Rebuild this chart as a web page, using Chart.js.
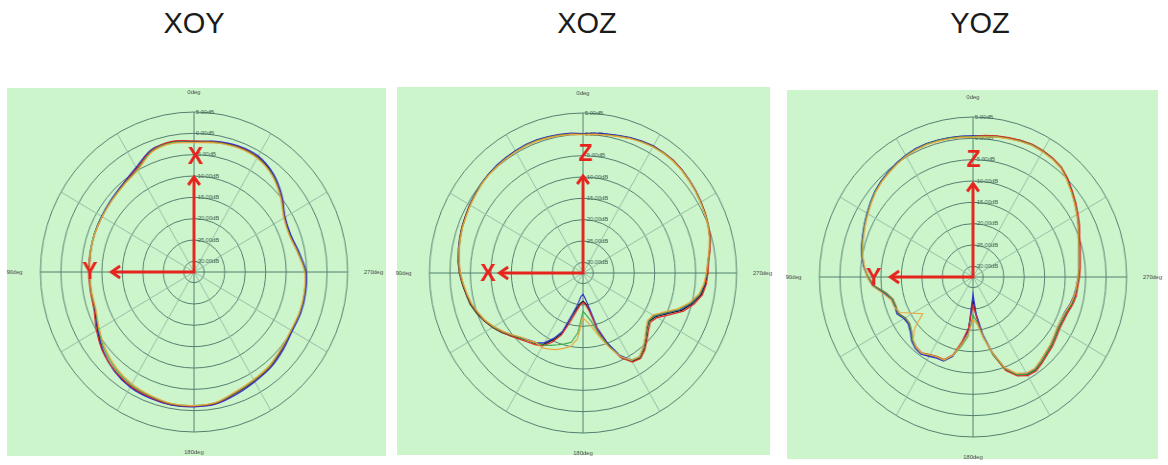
<!DOCTYPE html>
<html>
<head>
<meta charset="utf-8">
<script src="https://cdn.jsdelivr.net/npm/chart.js@4.4.1/dist/chart.umd.min.js"></script>
<style>
  body { margin: 0; background: #fff; font-family: "Liberation Sans", Arial, sans-serif; }
  .page { position: relative; width: 1168px; height: 465px; overflow: hidden; }
  .title { position: absolute; top: 5.5px; width: 200px; text-align: center; font-size: 29px; line-height: 34px; color: #1b1b1b; }
  .panel { position: absolute; background: #cdf5cc; }
  .plot { position: absolute; width: 420px; height: 420px; transform: scaleX(0.96); transform-origin: 210px 210px; }
</style>
</head>
<body>
<div class="page">
  <div class="title" style="left:94px">XOY</div>
  <div class="title" style="left:487px">XOZ</div>
  <div class="title" style="left:880px">YOZ</div>

  <div class="panel" style="left:7px;top:88px;width:379px;height:368px">
    <div class="plot" style="left:-22.7px;top:-26.3px"><canvas id="xoy" width="420" height="420"></canvas></div>
  </div>
  <div class="panel" style="left:397px;top:87px;width:373px;height:368px">
    <div class="plot" style="left:-23.7px;top:-23.7px"><canvas id="xoz" width="420" height="420"></canvas></div>
  </div>
  <div class="panel" style="left:787px;top:90px;width:371px;height:369px">
    <div class="plot" style="left:-24.3px;top:-23px"><canvas id="yoz" width="420" height="420"></canvas></div>
  </div>
</div>

<script>
// ring values (dB) and the scale limits
const ringTicks = [5, 0, -5, -10, -15, -20, -25, -30];
const scaleMin = -32.5;
const scaleMax = 5;
const degreeLabels = ['0deg', '90deg', '180deg', '270deg'];

// XOY plane, 10 deg steps, angle counted counter-clockwise from 0deg (top)
const xoyBlack  = [-1.9, -1.5, -2.1, -4.4, -5.6, -6.2, -6.5, -6.6, -6.8, -6.9, -6.9, -6.7, -5.3, -3.5, -2.3, -1.5, -1.2, -0.9, -1.0, -1.2, -2.3, -3.0, -3.5, -4.4, -5.0, -4.9, -5.0, -5.3, -6.6, -7.5, -6.9, -4.7, -2.6, -1.4, -1.2, -1.5];
const xoyBlue   = [-2.0, -1.6, -2.0, -4.2, -5.5, -6.1, -6.4, -6.6, -6.9, -7.0, -7.0, -6.8, -5.4, -3.6, -2.2, -1.3, -1.0, -0.8, -0.9, -1.1, -2.0, -2.8, -3.3, -4.1, -4.8, -4.7, -4.8, -5.1, -6.4, -7.3, -6.8, -4.5, -2.4, -1.1, -1.0, -1.4];
const xoyRed    = [-1.8, -1.4, -2.2, -4.5, -5.7, -6.3, -6.6, -6.7, -6.7, -6.8, -6.8, -6.5, -5.0, -3.4, -2.4, -1.6, -1.3, -1.0, -1.1, -1.3, -2.4, -3.1, -3.6, -4.5, -5.1, -5.0, -5.1, -5.4, -6.7, -7.6, -7.0, -4.8, -2.8, -1.5, -1.3, -1.6];
const xoyGreen  = [-2.1, -1.7, -2.4, -4.8, -5.8, -6.3, -6.5, -6.6, -6.8, -7.0, -7.0, -6.9, -5.6, -4.0, -2.8, -1.9, -1.5, -1.1, -1.2, -1.4, -2.5, -3.2, -3.7, -4.6, -5.1, -5.0, -5.1, -5.4, -6.7, -7.6, -7.1, -4.9, -2.8, -1.6, -1.4, -1.7];
const xoyOrange = [-2.2, -1.9, -2.6, -5.0, -5.9, -6.4, -6.6, -6.7, -6.9, -7.1, -7.1, -7.0, -5.8, -4.3, -3.1, -2.2, -1.7, -1.2, -1.2, -1.5, -2.7, -3.4, -3.9, -4.7, -5.2, -5.1, -5.2, -5.5, -6.8, -7.7, -7.2, -5.0, -2.9, -1.7, -1.5, -1.8];

// XOZ plane, 5 deg steps
const xozBlack = [
  0.1, 0.3, 0.4, 0.5, 0.6, 0.6, 0.5, 0.4, 0.3, 0.2, 0.0, -0.3,
  -0.5, -0.8, -1.0, -1.3, -1.6, -1.9, -2.3, -2.9, -3.5, -4.0, -4.9, -5.9,
  -7.0, -8.2, -9.6, -10.9, -11.8, -12.3, -13.2, -15.2, -17.5, -22.0, -24.2, -25.4,
  -25.9, -25.3, -23.8, -18.9, -14.7, -10.8, -8.6, -8.2, -9.3, -10.7, -12.0, -12.8,
  -12.0, -9.9, -6.9, -4.8, -3.2, -2.5, -2.1, -1.8, -1.1, -0.4, 0.0, 0.4,
  0.7, 1.0, 1.3, 1.6, 1.8, 1.8, 1.8, 1.5, 1.2, 0.8, 0.5, 0.3
];
const xozBlue = [
  0.2, 0.4, 0.5, 0.6, 0.7, 0.7, 0.6, 0.5, 0.4, 0.2, 0.0, -0.3,
  -0.6, -0.9, -1.1, -1.4, -1.7, -2.1, -2.5, -3.1, -3.7, -4.3, -5.2, -6.1,
  -7.3, -8.6, -9.9, -11.1, -12.0, -12.6, -13.6, -15.6, -18.0, -22.5, -25.0, -27.0,
  -27.5, -26.5, -24.5, -19.2, -15.0, -11.2, -8.9, -8.5, -9.6, -11.0, -12.3, -13.1,
  -12.4, -10.3, -7.3, -5.1, -3.5, -2.7, -2.3, -1.9, -1.2, -0.5, 0.0, 0.4,
  0.8, 1.1, 1.4, 1.7, 1.9, 1.9, 1.9, 1.6, 1.3, 0.9, 0.6, 0.4
];
const xozRed = [
  0.0, 0.2, 0.3, 0.4, 0.5, 0.5, 0.4, 0.3, 0.2, 0.1, -0.1, -0.4,
  -0.6, -0.9, -1.1, -1.4, -1.7, -2.0, -2.4, -3.0, -3.6, -4.2, -5.1, -6.0,
  -7.1, -8.3, -9.5, -10.6, -11.4, -12.0, -12.8, -14.6, -17.0, -20.8, -23.5, -25.0,
  -25.6, -25.0, -23.2, -18.5, -14.4, -10.6, -8.4, -8.0, -9.0, -10.4, -11.6, -12.4,
  -11.6, -9.3, -6.4, -4.4, -2.9, -2.3, -2.0, -1.7, -1.0, -0.3, 0.1, 0.5,
  0.8, 1.1, 1.4, 1.7, 1.9, 1.9, 1.8, 1.5, 1.1, 0.7, 0.4, 0.2
];
const xozGreen = [
  0.0, 0.2, 0.3, 0.4, 0.5, 0.5, 0.4, 0.3, 0.2, 0.1, -0.1, -0.4,
  -0.7, -1.0, -1.2, -1.5, -1.8, -2.1, -2.5, -3.1, -3.7, -4.3, -5.2, -6.1,
  -7.2, -8.5, -9.8, -11.0, -11.9, -12.4, -13.0, -13.8, -14.6, -15.3, -16.0, -18.5,
  -23.5, -22.5, -21.0, -17.8, -14.3, -10.9, -8.8, -8.4, -9.5, -10.9, -12.2, -13.0,
  -12.5, -10.5, -7.6, -5.3, -3.6, -2.8, -2.3, -1.9, -1.2, -0.5, 0.0, 0.4,
  0.7, 1.0, 1.3, 1.6, 1.8, 1.8, 1.7, 1.4, 1.1, 0.7, 0.4, 0.2
];
const xozOrange = [
  -0.1, 0.1, 0.2, 0.3, 0.4, 0.4, 0.3, 0.2, 0.1, 0.0, -0.2, -0.5,
  -0.7, -1.0, -1.2, -1.5, -1.8, -2.2, -2.6, -3.2, -3.8, -4.4, -5.3, -6.2,
  -7.4, -8.7, -10.0, -11.2, -11.9, -12.6, -12.3, -12.8, -13.4, -14.2, -15.0, -17.0,
  -22.0, -21.0, -19.5, -17.0, -14.0, -10.9, -8.9, -8.6, -9.7, -11.1, -12.4, -13.2,
  -12.8, -10.8, -7.9, -5.6, -3.8, -2.9, -2.4, -2.0, -1.3, -0.6, -0.1, 0.3,
  0.6, 0.9, 1.2, 1.5, 1.7, 1.7, 1.6, 1.3, 1.0, 0.6, 0.3, 0.1
];

// YOZ plane, 5 deg steps
const yozBlack = [
  0.5, 0.55, 0.6, 0.65, 0.7, 0.6, 0.35, 0.0, -0.4, -0.8, -1.3, -2.0,
  -2.7, -3.3, -3.9, -4.4, -5.0, -5.8, -6.8, -8.2, -10.8, -12.1, -12.3, -12.2,
  -13.2, -13.4, -12.7, -11.5, -10.8, -10.6, -11.3, -11.7, -11.7, -13.4, -16.9, -20.3,
  -27.0, -23.4, -18.5, -13.9, -9.5, -7.2, -6.1, -5.9, -6.5, -7.1, -7.5, -8.0,
  -8.4, -8.4, -8.2, -7.6, -7.2, -7.0, -6.7, -6.4, -6.1, -5.6, -5.0, -4.0,
  -3.1, -2.1, -1.1, 0.0, 1.0, 1.4, 1.6, 1.7, 1.5, 1.2, 1.0, 0.7
];
const yozBlue = [
  0.6, 0.65, 0.7, 0.75, 0.8, 0.7, 0.45, 0.1, -0.3, -0.7, -1.2, -1.9,
  -2.6, -3.2, -3.8, -4.3, -4.9, -5.7, -6.7, -8.0, -10.5, -11.9, -12.2, -12.0,
  -13.0, -13.2, -12.5, -11.3, -10.6, -10.4, -11.0, -11.5, -11.5, -13.2, -16.6, -19.8,
  -28.5, -23.8, -18.8, -14.2, -9.8, -7.5, -6.4, -6.2, -6.8, -7.4, -7.8, -8.3,
  -8.7, -8.8, -8.6, -8.0, -7.5, -7.2, -6.9, -6.6, -6.3, -5.8, -5.2, -4.2,
  -3.2, -2.2, -1.2, -0.1, 0.9, 1.3, 1.5, 1.6, 1.4, 1.1, 0.9, 0.6
];
const yozRed = [
  0.4, 0.45, 0.5, 0.55, 0.6, 0.5, 0.25, -0.1, -0.5, -0.9, -1.4, -2.1,
  -2.8, -3.4, -4.0, -4.5, -5.1, -5.9, -6.9, -8.4, -11.0, -12.3, -12.5, -12.4,
  -13.4, -13.6, -12.9, -11.7, -11.0, -10.8, -11.5, -11.9, -11.9, -13.6, -17.1, -20.6,
  -26.0, -23.0, -18.2, -13.6, -9.2, -6.9, -5.8, -5.6, -6.2, -6.8, -7.2, -7.7,
  -8.1, -8.1, -7.9, -7.3, -6.9, -6.8, -6.5, -6.2, -5.9, -5.4, -4.8, -3.8,
  -2.9, -1.9, -0.9, 0.2, 1.1, 1.5, 1.7, 1.8, 1.6, 1.3, 1.1, 0.8
];
const yozGreen = [
  0.4, 0.5, 0.55, 0.6, 0.65, 0.55, 0.3, -0.05, -0.45, -0.85, -1.35, -2.05,
  -2.75, -3.35, -3.95, -4.45, -5.05, -5.85, -6.9, -8.3, -10.9, -12.2, -12.4, -12.3,
  -13.3, -13.5, -12.8, -11.6, -10.9, -10.7, -11.4, -11.8, -11.8, -13.5, -16.0, -18.5,
  -23.5, -22.0, -18.3, -13.8, -9.6, -7.3, -6.2, -6.0, -6.6, -7.2, -7.6, -8.1,
  -8.5, -8.5, -8.3, -7.7, -7.3, -7.1, -6.8, -6.5, -6.2, -5.7, -5.1, -4.1,
  -3.2, -2.2, -1.2, -0.1, 0.9, 1.3, 1.5, 1.6, 1.4, 1.1, 0.9, 0.6
];
const yozOrange = [
  0.3, 0.35, 0.4, 0.45, 0.5, 0.4, 0.15, -0.2, -0.6, -1.0, -1.5, -2.2,
  -2.9, -3.5, -4.1, -4.6, -5.2, -5.9, -6.6, -7.8, -10.2, -11.8, -12.0, -12.8,
  -15.5, -17.5, -14.0, -11.8, -10.9, -10.7, -11.4, -11.8, -11.8, -13.5, -16.5, -19.0,
  -22.5, -21.5, -18.0, -14.2, -9.9, -7.6, -6.5, -6.3, -6.9, -7.5, -7.9, -8.4,
  -8.8, -8.8, -8.5, -7.9, -7.4, -7.2, -6.9, -6.6, -6.3, -5.8, -5.2, -4.2,
  -3.3, -2.3, -1.3, -0.2, 0.8, 1.2, 1.4, 1.5, 1.3, 1.0, 0.8, 0.5
];

const lineColors = {
    black: '#141414',
    blue: '#2c2cd6',
    red: '#e02626',
    green: '#3eaa4a',
    orange: '#eea43c'
};
const ringColor = '#527e6f';
const spokeColor = '#93bfa4';
const arrowRed = '#e6231d';

// radar goes clockwise from the top, the patterns go counter-clockwise
function toClockwise(values) {
    return [values[0]].concat(values.slice(1).reverse());
}

const polarDecor = {
    id: 'polarDecor',
    beforeDatasetsDraw(chart) {
        const r = chart.scales.r;
        const ctx = chart.ctx;
        const cx = r.xCenter;
        const cy = r.yCenter;
        ctx.save();

        // ring labels next to the 0deg axis
        ctx.font = '6px Arial';
        ctx.fillStyle = '#3c5c4e';
        ctx.textAlign = 'left';
        ctx.textBaseline = 'middle';
        ringTicks.forEach(v => {
            const d = r.getDistanceFromCenterForValue(v);
            ctx.fillText(v.toFixed(2) + 'dB', cx + 2, cy - d);
        });

        // degree labels outside the outer ring
        ctx.textAlign = 'center';
        ctx.fillStyle = '#444';
        chart.data.labels.forEach((lab, i) => {
            if (!lab) return;
            const side = (lab === '90deg' || lab === '270deg');
            const p = r.getPointPosition(i, r.drawingArea + (side ? 27 : 20));
            ctx.fillText(lab, p.x, p.y);
        });
        ctx.restore();
    },
    afterDraw(chart, args, opts) {
        const r = chart.scales.r;
        const ctx = chart.ctx;
        const cx = r.xCenter;
        const cy = r.yCenter;
        ctx.save();
        ctx.strokeStyle = arrowRed;
        ctx.lineWidth = 3;
        ctx.lineJoin = 'miter';

        // L shaped axes
        ctx.beginPath();
        ctx.moveTo(cx, cy - opts.up);
        ctx.lineTo(cx, cy);
        ctx.lineTo(cx - opts.left, cy);
        ctx.stroke();

        // arrow heads
        ctx.beginPath();
        ctx.moveTo(cx - 6, cy - opts.up + 8);
        ctx.lineTo(cx, cy - opts.up);
        ctx.lineTo(cx + 6, cy - opts.up + 8);
        ctx.moveTo(cx - opts.left + 9, cy - 6);
        ctx.lineTo(cx - opts.left, cy);
        ctx.lineTo(cx - opts.left + 9, cy + 6);
        ctx.stroke();

        ctx.fillStyle = arrowRed;
        ctx.font = 'bold 24px Arial';
        ctx.textAlign = 'center';
        ctx.textBaseline = 'middle';
        ctx.fillText(opts.upText, cx + opts.upTextPos[0], cy + opts.upTextPos[1]);
        ctx.fillText(opts.leftText, cx + opts.leftTextPos[0], cy + opts.leftTextPos[1]);
        ctx.restore();
    }
};

function makePolar(canvasId, step, series, tension, arrows) {
    const count = 360 / step;
    const labels = [];
    for (let i = 0; i < count; i++) {
        const ang = (360 - i * step) % 360;
        labels.push(ang % 90 === 0 ? degreeLabels[ang / 90] : '');
    }

    const datasets = Object.keys(series).map(name => ({
        label: name,
        data: toClockwise(series[name]),
        borderColor: lineColors[name],
        borderWidth: 1.2,
        fill: false,
        pointRadius: 0,
        tension: tension
    }));

    new Chart(document.getElementById(canvasId), {
        type: 'radar',
        data: { labels: labels, datasets: datasets },
        options: {
            responsive: false,
            animation: false,
            layout: { padding: 50 },
            plugins: {
                legend: { display: false },
                tooltip: { enabled: false },
                polarDecor: arrows
            },
            scales: {
                r: {
                    min: scaleMin,
                    max: scaleMax,
                    afterBuildTicks: scale => {
                        scale.ticks = [scaleMin].concat(ringTicks.slice().reverse()).map(v => ({ value: v }));
                    },
                    ticks: { display: false },
                    pointLabels: { display: false },
                    grid: { circular: true, color: ringColor, lineWidth: 1 },
                    angleLines: {
                        lineWidth: ctx => (ctx.index * step) % 30 === 0 ? 1 : 0,
                        color: ctx => (ctx.index * step) % 90 === 0 ? ringColor : spokeColor
                    }
                }
            }
        },
        plugins: [polarDecor]
    });
}

document.addEventListener('DOMContentLoaded', function() {
    makePolar('xoy', 10,
        { orange: xoyOrange, green: xoyGreen, red: xoyRed, blue: xoyBlue, black: xoyBlack },
        0.3,
        { up: 95, left: 86, upText: 'X', upTextPos: [1.5, -115], leftText: 'Y', leftTextPos: [-108.5, 0] });

    makePolar('xoz', 5,
        { orange: xozOrange, green: xozGreen, red: xozRed, blue: xozBlue, black: xozBlack },
        0,
        { up: 97, left: 87, upText: 'Z', upTextPos: [2.5, -119], leftText: 'X', leftTextPos: [-99, 1.7] });

    makePolar('yoz', 5,
        { orange: yozOrange, green: yozGreen, red: yozRed, blue: yozBlue, black: yozBlack },
        0,
        { up: 93.5, left: 86, upText: 'Z', upTextPos: [0.5, -117], leftText: 'Y', leftTextPos: [-103.5, 1] });
});
</script>
</body>
</html>
